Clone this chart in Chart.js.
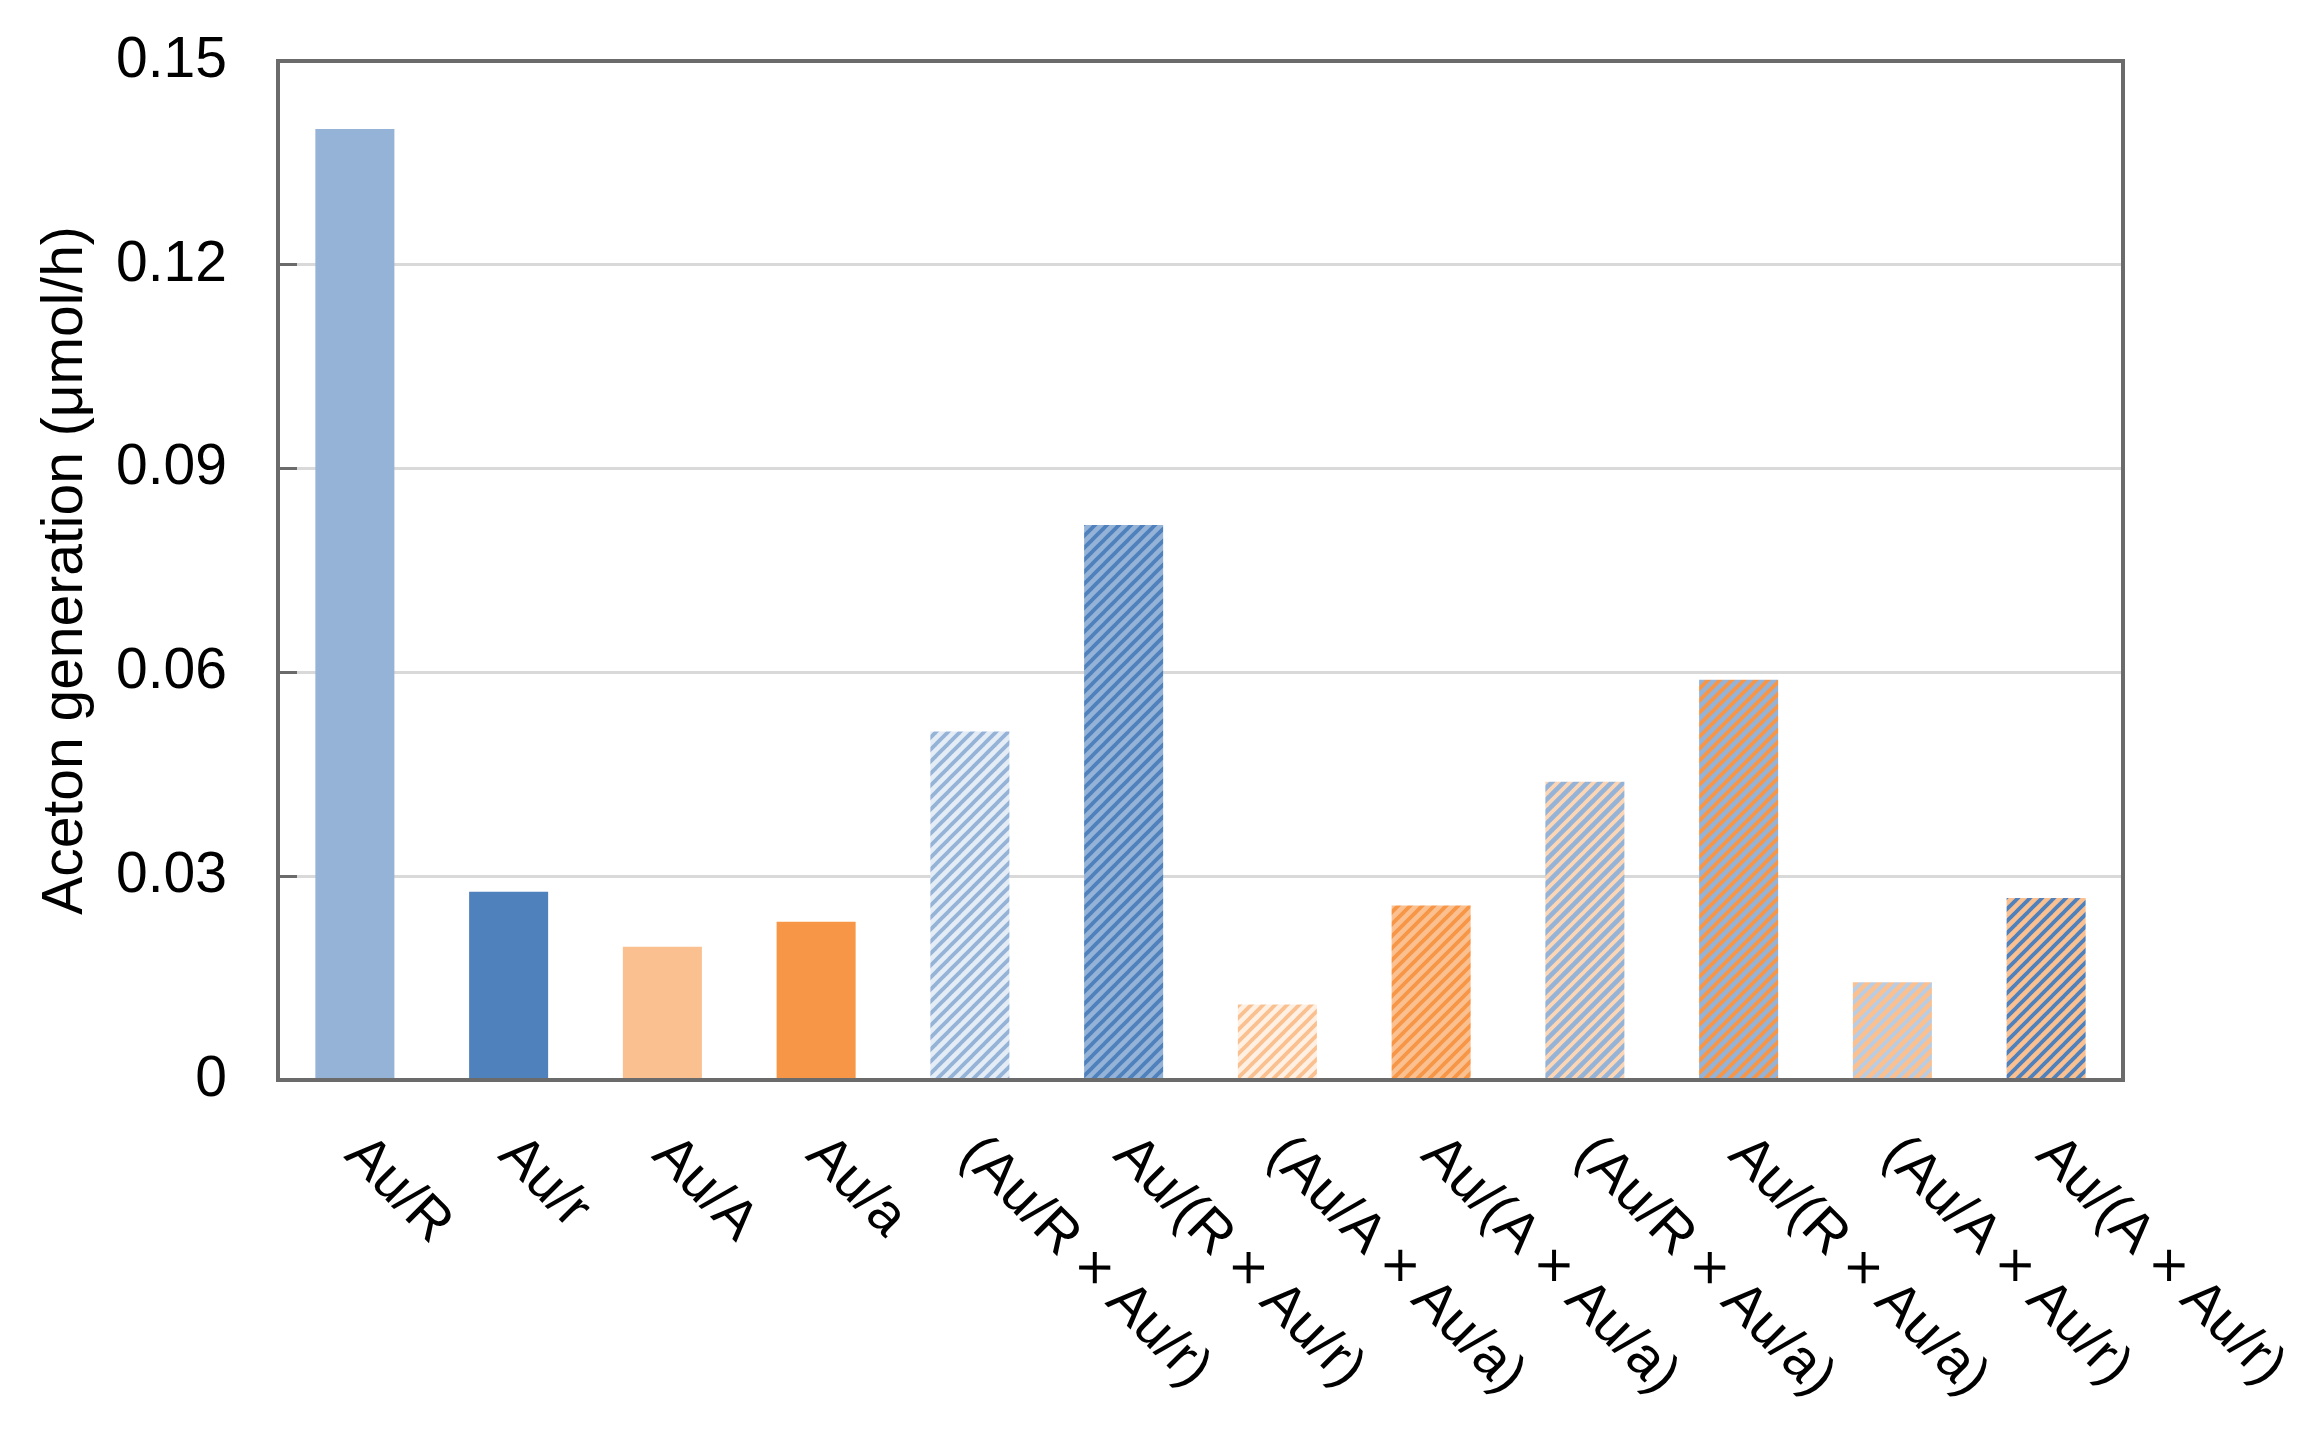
<!DOCTYPE html>
<html>
<head>
<meta charset="utf-8">
<script src="https://cdn.jsdelivr.net/npm/chart.js@4.4.1/dist/chart.umd.min.js"></script>
<style>
  html, body { margin: 0; padding: 0; background: #fff; }
  #wrap { width: 2313px; height: 1441px; }
</style>
</head>
<body>
<div id="wrap"><canvas id="chart" width="2313" height="1441"></canvas></div>
<script>
// Data
const categories = [
  'Au/R', 'Au/r', 'Au/A', 'Au/a',
  '(Au/R × Au/r)', 'Au/(R × Au/r)',
  '(Au/A × Au/a)', 'Au/(A × Au/a)',
  '(Au/R × Au/a)', 'Au/(R × Au/a)',
  '(Au/A × Au/r)', 'Au/(A × Au/r)'
];
const acetonRate = [0.140, 0.0277, 0.0196, 0.0233, 0.0513, 0.0817, 0.0111, 0.0257, 0.0439, 0.0589, 0.0144, 0.0268];
const yTicks = [0, 0.03, 0.06, 0.09, 0.12, 0.15];

// Bar fills: solid colour, or hatch of [background, stripe]
const LIGHT_BLUE = '#95b3d7';
const BLUE = '#4f81bd';
const LIGHT_ORANGE = '#fac090';
const ORANGE = '#f79646';
const barFills = [
  LIGHT_BLUE, BLUE, LIGHT_ORANGE, ORANGE,
  ['#e4ecf6', LIGHT_BLUE], [LIGHT_BLUE, BLUE],
  ['#fff0e3', LIGHT_ORANGE], [LIGHT_ORANGE, ORANGE],
  [LIGHT_BLUE, '#fcd5b4'], [LIGHT_BLUE, ORANGE],
  [LIGHT_ORANGE, '#b8cce4'], [LIGHT_ORANGE, BLUE]
];

const FONT = '"Liberation Sans", Arial, sans-serif';
const canvas = document.getElementById('chart');
const ctx = canvas.getContext('2d');

function makeHatch(bg, fg) {
  const s = 12;
  const tile = document.createElement('canvas');
  tile.width = s;
  tile.height = s;
  const t = tile.getContext('2d');
  t.fillStyle = bg;
  t.fillRect(0, 0, s, s);
  t.strokeStyle = fg;
  t.lineWidth = 3.8;
  t.lineCap = 'square';
  for (const k of [-1, 0, 1]) {
    t.beginPath();
    t.moveTo(k * s, s);
    t.lineTo(k * s + s, 0);
    t.stroke();
  }
  return ctx.createPattern(tile, 'repeat');
}

const fills = barFills.map(f => Array.isArray(f) ? makeHatch(f[0], f[1]) : f);

// Plot frame drawn over the bars
const framePlugin = {
  id: 'frame',
  afterDatasetsDraw(chart) {
    const { ctx, chartArea: a } = chart;
    ctx.save();
    ctx.strokeStyle = '#6b6b6b';
    ctx.lineWidth = 4;
    ctx.strokeRect(a.left, a.top, a.right - a.left, a.bottom - a.top);
    ctx.restore();
  }
};

// Category labels turned 45° clockwise, reading downwards
const labelPlugin = {
  id: 'slantLabels',
  afterDraw(chart) {
    const { ctx, chartArea: a } = chart;
    const xs = chart.scales.x;
    ctx.save();
    ctx.fillStyle = '#000';
    ctx.font = '56px ' + FONT;
    ctx.textAlign = 'left';
    ctx.textBaseline = 'alphabetic';
    categories.forEach((label, i) => {
      const x = xs.getPixelForValue(i) - 12;
      const y = a.bottom + 77;
      ctx.save();
      ctx.translate(x, y);
      ctx.rotate(Math.PI / 4);
      ctx.fillText(label, 0, 0);
      ctx.restore();
    });
    ctx.restore();
  }
};

new Chart(ctx, {
  type: 'bar',
  data: {
    labels: categories,
    datasets: [{
      data: acetonRate,
      backgroundColor: fills,
      borderWidth: 0,
      categoryPercentage: 1,
      barPercentage: 0.514
    }]
  },
  options: {
    responsive: false,
    animation: false,
    devicePixelRatio: 1,
    layout: { padding: { left: 0, right: 190, top: 61, bottom: 361 } },
    plugins: { legend: { display: false }, tooltip: { enabled: false } },
    scales: {
      x: {
        grid: { display: false },
        border: { display: false },
        ticks: { display: false },
        afterFit(scale) { scale.height = 0; }
      },
      y: {
        min: 0,
        max: 0.15,
        afterBuildTicks(scale) { scale.ticks = yTicks.map(v => ({ value: v })); },
        afterFit(scale) {
          scale.width = 278;
          scale.paddingTop = 0;
          scale.paddingBottom = 0;
        },
        grid: {
          color: '#d9d9d9',
          lineWidth: 3,
          drawTicks: true,
          tickLength: -19,
          tickColor: '#6b6b6b',
          tickWidth: 3
        },
        border: { display: false },
        ticks: {
          padding: 70,
          color: '#000',
          font: { family: FONT, size: 57 },
          callback: v => v === 0 ? '0' : v.toFixed(2)
        },
        title: {
          display: true,
          text: 'Aceton generation (μmol/h)',
          color: '#000',
          font: { family: FONT, size: 57 },
          padding: { top: 32, bottom: 0 }
        }
      }
    }
  },
  plugins: [framePlugin, labelPlugin]
});
</script>
</body>
</html>
